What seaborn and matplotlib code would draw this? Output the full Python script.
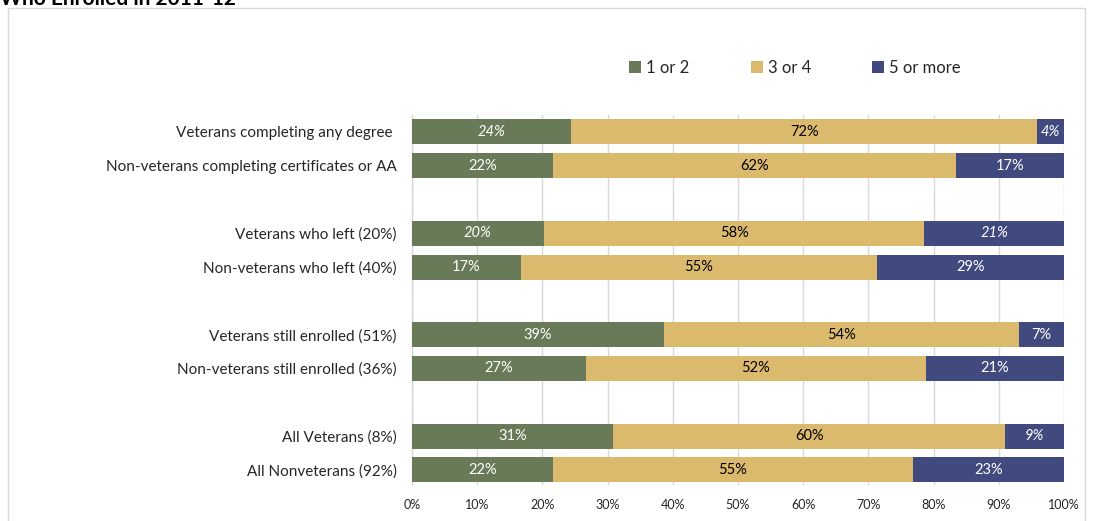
import matplotlib
matplotlib.use("Agg")
import matplotlib.pyplot as plt
from matplotlib.patches import Rectangle, Patch
import seaborn as sns
import pandas as pd

# Groups shown on the vertical axis (blank entries separate the groups)
categories = [
    "Veterans completing any degree ",
    "Non-veterans completing certificates or AA",
    "Veterans who left (20%)",
    "Non-veterans who left (40%)",
    "Veterans still enrolled (51%)",
    "Non-veterans still enrolled (36%)",
    "All Veterans (8%)",
    "All Nonveterans (92%)",
]
series_names = ["1 or 2", "3 or 4", "5 or more"]

# Share of students in each band (percent)
one_or_two = [24.4, 21.6, 20.2, 16.7, 38.7, 26.7, 30.8, 21.6]
three_or_four = [71.5, 61.8, 58.4, 54.6, 54.4, 52.1, 60.2, 55.2]
five_or_more = [4.1, 16.6, 21.4, 28.7, 6.9, 21.2, 9.0, 23.2]

# Labels shown in italics (small veteran subgroups)
italic_labels = {(0, 0), (0, 2), (2, 0), (2, 2), (6, 2)}

x_ticks = [0, 10, 20, 30, 40, 50, 60, 70, 80, 90, 100]
title = "Who Enrolled in 2011-12"

colors = ["#687A57", "#DBBA6E", "#414A7E"]
text_colors = ["white", "black", "white"]

sns.set_theme(style="white")
plt.rcParams["font.family"] = ["Lato", "DejaVu Sans"]

order = [categories[0], categories[1], " ",
         categories[2], categories[3], "  ",
         categories[4], categories[5], "   ",
         categories[6], categories[7]]

df = pd.DataFrame({
    "group": categories,
    "s1": one_or_two,
    "s2": three_or_four,
    "s3": five_or_more,
})
df["c1"] = df["s1"]
df["c2"] = df["s1"] + df["s2"]
df["c3"] = df["s1"] + df["s2"] + df["s3"]

fig = plt.figure(figsize=(10.96, 5.21), dpi=100)
ax = fig.add_axes([412 / 1096, 36 / 521, 652 / 1096, 370 / 521])

# Stack by overlaying cumulative totals, widest first
for col, color in zip(["c3", "c2", "c1"], colors[::-1]):
    sns.barplot(data=df, x=col, y="group", order=order, color=color,
                width=0.74, orient="h", saturation=1, ax=ax,
                edgecolor="none", linewidth=0, zorder=3)

# Segment value labels
for i in range(len(categories)):
    pos = order.index(categories[i])
    starts = [0, df["c1"][i], df["c2"][i]]
    vals = [one_or_two[i], three_or_four[i], five_or_more[i]]
    for k in range(3):
        style = "italic" if (i, k) in italic_labels else "normal"
        ax.text(starts[k] + vals[k] / 2, pos, f"{vals[k]:.0f}%",
                ha="center", va="center", fontsize=10.5,
                color=text_colors[k], style=style, zorder=5)

ax.set_xlim(0, 100)
ax.set_ylim(10.45, -0.5)
ax.set_xticks(x_ticks)
ax.set_xticklabels([f"{t}%" for t in x_ticks], fontsize=9)
ax.tick_params(axis="x", length=0, pad=10)
ax.tick_params(axis="y", length=0, pad=11, labelsize=11)
ax.set_xlabel("")
ax.set_ylabel("")
ax.grid(axis="x", color="#D9D9D9", linewidth=1, zorder=0)
ax.set_axisbelow(True)
for side in ["top", "right", "bottom"]:
    ax.spines[side].set_visible(False)
ax.spines["left"].set_visible(True)
ax.spines["left"].set_color("#D9D9D9")
ax.spines["left"].set_linewidth(1)

handles = [Patch(facecolor=c, edgecolor="none") for c in colors]
fig.legend(handles, series_names, loc="center", ncol=3,
           bbox_to_anchor=(795 / 1096, 1 - 68 / 521), frameon=False,
           fontsize=12, handlelength=0.7, handleheight=0.7,
           handletextpad=0.3, columnspacing=3.7)

# Chart frame and the heading above it
fig.patches.append(Rectangle((8 / 1096, -0.1), 1077 / 1096, 1.1 - 8 / 521,
                             transform=fig.transFigure, fill=False,
                             edgecolor="#D9D9D9", linewidth=1))
fig.text(0.0, 1 - 5 / 521, title, ha="left", va="baseline",
         fontsize=15, fontweight="bold", color="black")

fig.savefig("out.png", dpi=100)
